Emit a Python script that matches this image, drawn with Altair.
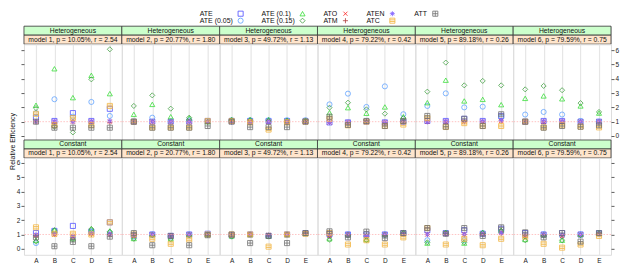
import altair as alt
import pandas as pd

FONT = "Liberation Sans"

CATS = ["A", "B", "C", "D", "E"]
ROWS = ["Heterogeneous", "Constant"]
MODELS = [
    "model 1, p = 10.05%, r = 2.54",
    "model 2, p = 20.77%, r = 1.80",
    "model 3, p = 49.72%, r = 1.13",
    "model 4, p = 79.22%, r = 0.42",
    "model 5, p = 89.18%, r = 0.26",
    "model 6, p = 79.59%, r = 0.75",
]
SERIES = ["ATE", "ATE (0.05)", "ATE (0.1)", "ATE (0.15)", "ATO", "ATM", "ATEN", "ATC", "ATT"]
REF_VALUE = [1.0]

# values: 6 models x 5 categories (A..E), model-major
HET_ATE = [1.3, 1.05, 1.6, 1.05, 1.9, 1.0, 1.0, 1.0, 1.0, 1.05, 1.05, 1.05, 1.05, 1.05, 1.05,
           0.95, 0.95, 1.0, 0.95, 1.0, 1.05, 1.05, 1.2, 1.05, 1.4, 1.0, 1.05, 1.05, 1.0, 1.0]
HET_ATE05 = [1.6, 2.57, 1.35, 2.38, 1.4, 1.0, 1.28, 1.0, 1.1, 1.05, 1.1, 1.1, 1.1, 1.1, 1.1,
             2.21, 2.96, 2.03, 3.47, 1.52, 2.1, 2.98, 2.0, 2.05, 1.3, 1.5, 1.68, 1.5, 1.05, 1.0]
HET_ATE1 = [2.15, 4.7, 2.68, 4.24, 2.96, 1.51, 2.21, 1.35, 1.25, 1.0, 1.15, 1.15, 1.15, 1.1, 1.1,
            1.63, 1.98, 1.59, 2.03, 1.35, 2.33, 3.9, 2.45, 2.56, 2.19, 2.63, 2.8, 2.6, 2.1, 1.6]
HET_ATE15 = [1.95, 0.65, 0.25, 3.96, 6.06, 2.1, 2.84, 1.91, 1.28, 1.0, 1.1, 1.1, 1.05, 1.05, 1.05,
             1.98, 2.33, 1.86, 1.56, 1.25, 3.1, 5.13, 3.54, 3.85, 3.54, 3.26, 3.5, 3.2, 2.3, 1.68]
HET_ATO = [1.0, 1.0, 1.0, 1.0, 1.0, 1.0, 1.0, 1.0, 1.0, 1.0, 1.0, 1.0, 1.0, 1.0, 1.0,
           0.95, 0.95, 1.0, 0.95, 1.0, 1.0, 1.0, 1.0, 1.0, 1.05, 1.0, 1.0, 1.0, 1.0, 1.0]
HET_ATM = [1.0, 0.95, 1.0, 1.0, 0.95, 1.0, 1.0, 1.0, 1.0, 1.0, 1.0, 1.0, 1.0, 1.0, 1.0,
           0.95, 0.95, 1.0, 0.95, 1.0, 1.0, 1.0, 1.0, 1.0, 1.05, 1.0, 1.0, 1.0, 1.0, 1.0]
HET_ATEN = [1.0, 1.05, 1.0, 1.05, 1.05, 1.0, 1.0, 1.0, 1.0, 1.0, 0.95, 0.95, 1.0, 1.0, 1.0,
            0.95, 0.95, 1.0, 0.95, 1.0, 1.0, 1.05, 1.05, 1.05, 1.1, 1.0, 1.05, 1.05, 1.0, 1.0]
HET_ATC = [1.55, 0.75, 1.25, 0.75, 2.1, 1.0, 0.6, 0.6, 0.6, 1.05, 1.05, 0.95, 0.45, 0.95, 1.0,
           1.2, 0.75, 1.0, 0.7, 0.8, 1.25, 0.63, 0.9, 0.7, 0.7, 1.0, 0.6, 0.75, 0.65, 0.6]
HET_ATT = [1.0, 0.58, 0.58, 0.58, 0.58, 1.0, 0.58, 0.58, 0.58, 0.7, 1.0, 0.62, 0.62, 0.62, 1.0,
           1.35, 0.77, 1.05, 0.7, 1.05, 1.4, 0.65, 1.2, 0.7, 1.52, 1.0, 0.58, 0.7, 0.65, 0.75]

CON_ATE = [1.1, 1.25, 1.6, 1.2, 1.85, 0.95, 1.0, 0.9, 1.0, 1.05, 0.95, 1.0, 0.9, 1.0, 1.1,
           1.05, 1.0, 1.0, 1.0, 1.1, 1.3, 1.1, 1.3, 1.05, 1.4, 1.1, 1.0, 1.1, 1.0, 1.1]
CON_ATE05 = [0.4, 1.25, 0.8, 1.2, 1.1, 0.85, 1.0, 0.85, 1.0, 1.0, 0.9, 1.0, 0.9, 1.0, 1.1,
             0.9, 1.0, 0.85, 1.0, 1.1, 0.6, 1.1, 0.6, 1.1, 1.2, 0.9, 1.0, 0.9, 1.0, 1.1]
CON_ATE1 = [0.6, 1.3, 0.7, 1.4, 1.25, 0.72, 1.0, 0.7, 1.0, 1.0, 0.9, 1.0, 0.9, 1.0, 1.1,
            0.7, 1.0, 0.65, 1.0, 1.15, 0.4, 1.15, 0.4, 1.15, 1.3, 0.65, 1.0, 0.6, 1.0, 1.1]
CON_ATE15 = [0.5, 1.3, 0.68, 1.38, 1.2, 0.7, 0.95, 0.68, 0.95, 1.0, 0.85, 1.0, 0.85, 1.0, 1.1,
             0.65, 0.95, 0.6, 0.95, 1.1, 0.45, 1.1, 0.45, 1.1, 1.25, 0.6, 0.95, 0.6, 0.95, 1.1]
CON_ATO = [0.95, 1.0, 0.85, 1.05, 1.0, 0.9, 1.0, 0.9, 1.0, 1.0, 0.95, 1.0, 0.95, 1.0, 1.1,
           0.9, 1.0, 0.9, 1.0, 1.05, 1.0, 1.05, 1.0, 1.05, 1.1, 0.9, 1.0, 0.9, 1.0, 1.05]
CON_ATM = [0.9, 1.0, 0.8, 1.0, 1.0, 0.9, 1.0, 0.9, 1.0, 1.0, 1.0, 1.0, 0.95, 1.0, 1.1,
           0.9, 1.0, 0.9, 1.0, 1.05, 1.0, 1.05, 1.0, 1.0, 1.1, 0.9, 1.0, 0.9, 1.0, 1.05]
CON_ATEN = [1.0, 1.05, 0.9, 1.1, 1.05, 0.95, 1.0, 0.9, 1.0, 1.0, 0.95, 1.0, 0.9, 1.0, 1.1,
            1.0, 1.0, 0.95, 1.0, 1.05, 1.0, 1.05, 1.0, 1.05, 1.1, 1.0, 1.0, 1.0, 1.0, 1.05]
CON_ATC = [1.5, 1.05, 1.05, 1.0, 1.85, 1.0, 0.7, 0.35, 0.65, 1.0, 1.0, 1.0, 0.15, 1.0, 1.05,
           1.1, 0.3, 0.6, 0.3, 0.8, 1.45, 0.3, 0.7, 0.25, 0.7, 0.85, 0.35, 0.08, 0.3, 0.9]
CON_ATT = [0.8, 0.18, 0.48, 0.18, 0.85, 1.1, 0.25, 0.9, 0.25, 0.95, 1.0, 0.4, 0.9, 0.4, 1.1,
           1.22, 0.8, 1.2, 0.75, 1.1, 1.45, 1.05, 1.45, 0.9, 1.5, 1.15, 0.8, 1.1, 0.5, 1.1]

HET = [HET_ATE, HET_ATE05, HET_ATE1, HET_ATE15, HET_ATO, HET_ATM, HET_ATEN, HET_ATC, HET_ATT]
CON = [CON_ATE, CON_ATE05, CON_ATE1, CON_ATE15, CON_ATO, CON_ATM, CON_ATEN, CON_ATC, CON_ATT]

# ---- styles ----
COLORS = ["#4b4bff", "#5aa0ff", "#33dd33", "#3f9f3f", "#ff2020", "#b03c3c", "#8a6cff", "#f3b43c", "#6e6e6e"]
SHAPES = [
    "square",
    "circle",
    "triangle-up",
    "diamond",
    "M-0.8,-0.8L0.8,0.8M-0.8,0.8L0.8,-0.8",
    "M-1,0H1M0,-1V1",
    "M-0.45,0A0.45,0.45 0 1,0 0.45,0A0.45,0.45 0 1,0 -0.45,0M-1,0H1M0,-1V1M-0.7,-0.7L0.7,0.7M-0.7,0.7L0.7,-0.7",
    "M-1,-1H1V1H-1ZM-1,-0.33H1M-1,0.33H1",
    "M-1,-1H1V1H-1ZM-1,0H1M0,-1V1",
]
PW = 98
PH = [96, 97]
SH = 18
LH = 17
Y_DOMAINS = [[-0.28, 6.42], [-0.42, 6.35]]
GRID = "#e6e6e6"
LEG_COL = [0, 0, 1, 1, 2, 2, 3, 3, 4]
LEG_ROW = [0, 1, 0, 1, 0, 1, 0, 1, 0]
LEG_LABEL_X = [176, 238, 300, 343, 391]
LEG_SYMBOL_X = [217, 279, 322, 369, 412]
LEG_ROW_Y = [4.5, 11.5]

rows = []
for ri, table in enumerate([HET, CON]):
    for si, s in enumerate(SERIES):
        for mi in range(6):
            for ci, c in enumerate(CATS):
                rows.append({"row": ri, "model": mi, "cat": c, "series": s, "order": si,
                             "value": table[si][mi * 5 + ci]})
data = pd.DataFrame(rows).sort_values(["row", "model", "order"], kind="stable")
ref_df = pd.DataFrame({"value": REF_VALUE})

color_scale = alt.Scale(domain=SERIES, range=COLORS)
shape_scale = alt.Scale(domain=SERIES, range=SHAPES)
NOVIEW = alt.ViewBackground(stroke="transparent")


def legend_chart():
    leg = pd.DataFrame({
        "series": SERIES,
        "r": LEG_ROW,
        "lx": [LEG_LABEL_X[c] for c in LEG_COL],
        "sx": [LEG_SYMBOL_X[c] for c in LEG_COL],
    })
    lxs = alt.Scale(domain=[0, PW], range=[0, PW])
    lys = alt.Scale(domain=[0, 1], range=LEG_ROW_Y)
    leg_text = alt.Chart(leg).mark_text(align="left", baseline="middle", fontSize=7, font=FONT,
                                        color="#111111").encode(
        x=alt.X("lx:Q", scale=lxs, axis=None),
        y=alt.Y("r:Q", scale=lys, axis=None),
        text="series:N",
    )
    leg_sym = alt.Chart(leg).mark_point(filled=False, size=26, strokeWidth=0.8, opacity=1).encode(
        x=alt.X("sx:Q", scale=lxs, axis=None),
        y=alt.Y("r:Q", scale=lys, axis=None),
        color=alt.Color("series:N", scale=color_scale, legend=None),
        shape=alt.Shape("series:N", scale=shape_scale, legend=None),
    )
    return alt.layer(leg_text, leg_sym).properties(width=PW, height=LH, view=NOVIEW)


def blank_chart():
    d = pd.DataFrame({"t": [""]})
    return alt.Chart(d).mark_text(opacity=0).encode(text="t:N").properties(
        width=PW, height=LH, view=NOVIEW)


def strip_chart(row_label, model_label):
    d = pd.DataFrame({"lvl": ["a", "b"], "label": [row_label, model_label],
                      "fill": ["#ccffcc", "#ffe5cc"]})
    ysc = alt.Scale(domain=["a", "b"], paddingInner=0, paddingOuter=0)
    base = alt.Chart(d)
    rect = base.mark_rect(stroke="#333333", strokeWidth=0.8).encode(
        y=alt.Y("lvl:N", scale=ysc, axis=None),
        fill=alt.Fill("fill:N", scale=None),
    )
    txt = base.mark_text(fontSize=6.8, font=FONT, color="#111111", baseline="middle").encode(
        y=alt.Y("lvl:N", scale=ysc, axis=None),
        text="label:N",
    )
    return alt.layer(rect, txt).properties(width=PW, height=SH)


def y_axis(ri, mi):
    common = dict(values=list(range(7)), tickSize=3, tickColor="#333333", tickWidth=0.8,
                  labelFontSize=6.5, labelPadding=1, labelColor="#222222", domain=False,
                  grid=False, labelFont=FONT)
    if ri == 0 and mi == 5:
        return alt.Axis(orient="right", title=None, **common)
    if ri == 0 and mi == 0:
        return alt.Axis(orient="left", labels=False, title=None, **common)
    if ri == 1 and mi == 0:
        return alt.Axis(orient="left", title="Relative Efficiency", titleFontSize=7,
                        titleFontWeight="normal", titleAngle=270, titleX=-8, titleY=-17,
                        titleAlign="center", titleBaseline="bottom", titleColor="#111111",
                        titleFont=FONT, **common)
    if ri == 1 and mi == 5:
        return alt.Axis(orient="right", labels=False, title=None, **common)
    return None


def x_axis(ri):
    if ri == 0:
        return alt.Axis(labels=False, ticks=False, domain=False, grid=True, gridColor=GRID,
                        gridWidth=1.2, title=None)
    return alt.Axis(labels=True, ticks=False, domain=False, grid=True, gridColor=GRID,
                    gridWidth=1.2, title=None, labelFontSize=6.5, labelPadding=2.5,
                    labelAngle=0, labelColor="#222222", labelFont=FONT)


def plot_panel(ri, mi):
    sub = data[(data.row == ri) & (data.model == mi)]
    ysc = alt.Scale(domain=Y_DOMAINS[ri], nice=False, zero=False)
    ya = y_axis(ri, mi)

    def yenc():
        if ya is not None:
            return alt.Y("value:Q", scale=ysc, axis=ya)
        return alt.Y("value:Q", scale=ysc, axis=None)

    pts = alt.Chart(sub).mark_point(filled=False, size=26, strokeWidth=0.8, opacity=0.95).encode(
        x=alt.X("cat:N", scale=alt.Scale(domain=CATS, padding=0.65), axis=x_axis(ri)),
        y=yenc(),
        color=alt.Color("series:N", scale=color_scale, legend=None),
        shape=alt.Shape("series:N", scale=shape_scale, legend=None),
    )
    ref = alt.Chart(ref_df).mark_rule(color="#ffaaaa", strokeWidth=0.7, strokeDash=[1.5, 1.5]).encode(
        y=yenc()
    )
    return alt.layer(pts, ref).properties(width=PW, height=PH[ri])


top = alt.vconcat(
    legend_chart(),
    alt.hconcat(*[strip_chart(ROWS[0], m) for m in MODELS], spacing=0),
    spacing=0,
)

cells = [legend_chart()] + [blank_chart() for _ in range(5)]
cells += [strip_chart(ROWS[0], m) for m in MODELS]
cells += [plot_panel(0, i) for i in range(6)]
cells += [strip_chart(ROWS[1], m) for m in MODELS]
cells += [plot_panel(1, i) for i in range(6)]

chart = alt.concat(*cells, columns=6, spacing=0, bounds="flush", align="each").properties(
    padding=0, background="white"
).configure_view(stroke="#333333", strokeWidth=1).configure(font=FONT)

chart.save("out.html", embed_options={"renderer": "svg", "actions": False})
